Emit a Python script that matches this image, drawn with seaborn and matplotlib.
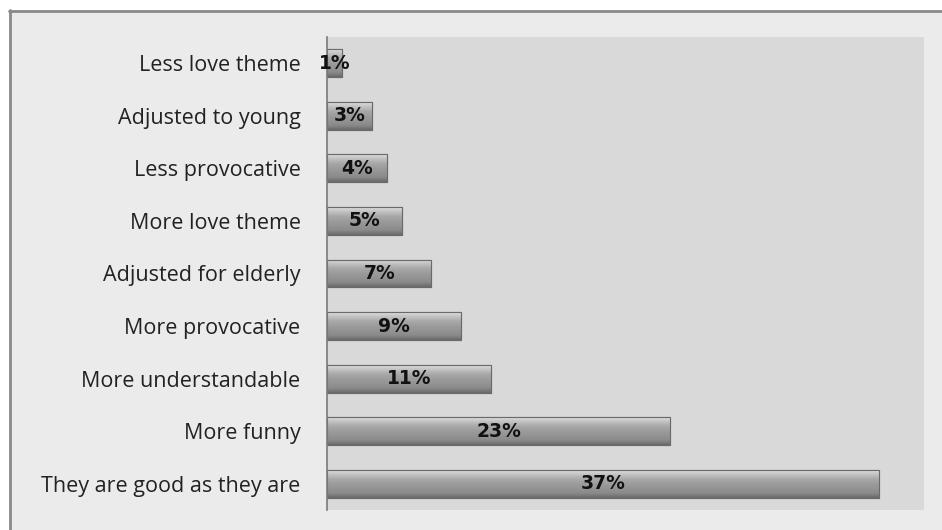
import numpy as np
import pandas as pd
import matplotlib
matplotlib.use("Agg")
import matplotlib.pyplot as plt
from matplotlib.lines import Line2D
from matplotlib.patches import Rectangle
import seaborn as sns

categories = ["Less love theme", "Adjusted to young", "Less provocative", "More love theme",
              "Adjusted for elderly", "More provocative", "More understandable", "More funny",
              "They are good as they are"]
values = [1, 3, 4, 5, 7, 9, 11, 23, 37]
labels = ["1%", "3%", "4%", "5%", "7%", "9%", "11%", "23%", "37%"]

sns.set_theme(style="white")
plt.rcParams['font.family'] = ['Open Sans', 'DejaVu Sans']

W, H = 942, 530
fig = plt.figure(figsize=(W / 100, H / 100), dpi=100, facecolor="white")

# outer chart area background and frame
fig.add_artist(Rectangle((9 / W, 0), 1 - 9 / W, 1 - 10 / H, transform=fig.transFigure,
                         facecolor="#ebebeb", edgecolor="none", zorder=-10))
fig.add_artist(Line2D([9.5 / W, 9.5 / W], [0, 1 - 10 / H], transform=fig.transFigure,
                      color="#8a8a8a", lw=2))
fig.add_artist(Line2D([9 / W, 1], [1 - 10.5 / H, 1 - 10.5 / H], transform=fig.transFigure,
                      color="#8a8a8a", lw=2))

ax = fig.add_axes([327 / W, 1 - 510 / H, (924 - 327) / W, (510 - 37) / H])
ax.set_facecolor("#d9d9d9")

df = pd.DataFrame({"category": categories, "value": values})
sns.barplot(data=df, x="value", y="category", order=categories, color="#a0a0a0",
            width=0.53, edgecolor="#6e6e6e", linewidth=0.8, ax=ax, saturation=1)

# bevel/gradient overlay per bar
grad = np.linspace(0, 1, 64).reshape(-1, 1)
cmap = matplotlib.colors.LinearSegmentedColormap.from_list(
    "bev", ["#dcdcdc", "#c0c0c0", "#a8a8a8", "#9c9c9c", "#939393", "#8a8a8a", "#6a6a6a"])
for p in ax.patches:
    x0, y0 = p.get_x(), p.get_y()
    w, h = p.get_width(), p.get_height()
    im = ax.imshow(grad, extent=[x0, x0 + w, y0 + h, y0], aspect="auto", cmap=cmap,
                   zorder=p.get_zorder() + 0.1, interpolation="bilinear")
    im.set_clip_path(p)
    ax.add_patch(Rectangle((x0, y0), w, h, facecolor="none", edgecolor="#6a6a6a",
                           lw=0.8, zorder=p.get_zorder() + 0.2))

for i, (v, lab) in enumerate(zip(values, labels)):
    ax.text(v / 2, i, lab, ha="center", va="center", fontsize=13.5, fontweight="bold",
            family=["DejaVu Sans"], color="#111111", zorder=10)

ax.set_xlim(0, 40)
ax.set_ylim(len(categories) - 0.5, -0.5)
ax.set_xlabel("")
ax.set_ylabel("")
ax.set_xticks([])
ax.tick_params(axis="y", length=0, pad=19, labelsize=15.5, labelcolor="#222222")
for s in ["top", "right", "bottom"]:
    ax.spines[s].set_visible(False)
ax.spines["left"].set_color("#7a7a7a")
ax.spines["left"].set_linewidth(1.2)

fig.savefig("out.png", dpi=100, facecolor="white")
